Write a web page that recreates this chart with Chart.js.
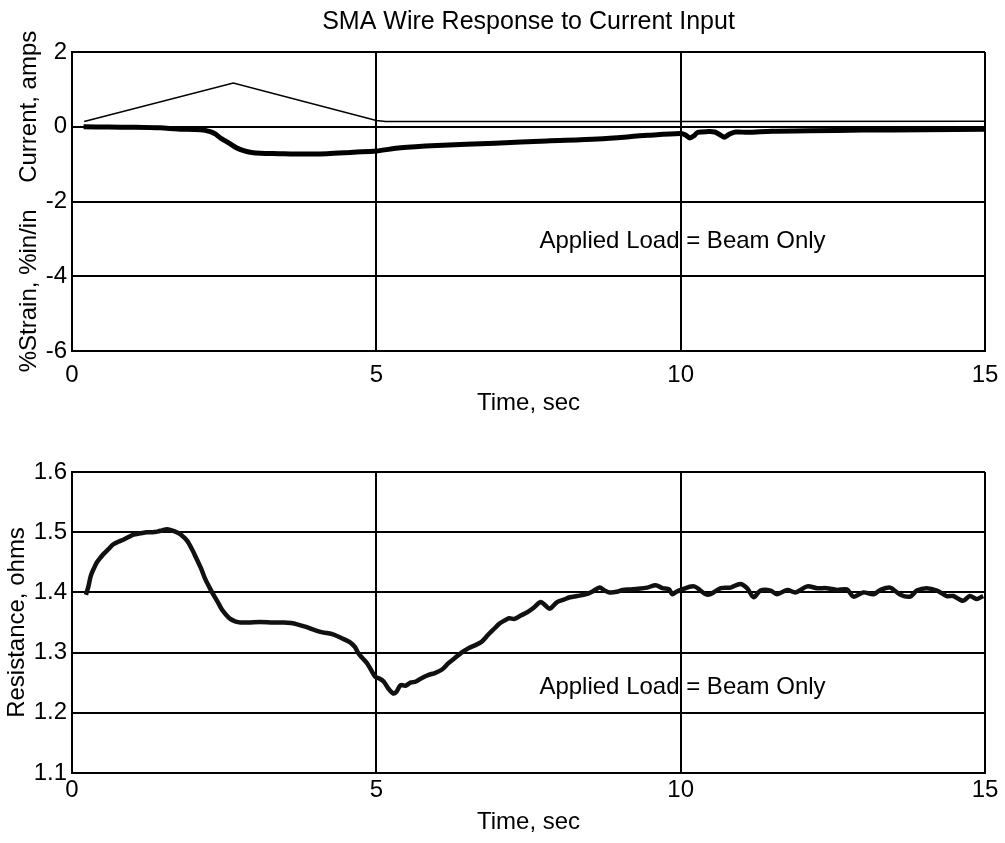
<!doctype html>
<html lang="en">
<head>
<meta charset="utf-8">
<title>SMA Wire Response to Current Input</title>
<style>
  * { margin: 0; padding: 0; }
  body { background: #fff; width: 1005px; height: 843px; position: relative; overflow: hidden; }
  .box { position: absolute; left: 0; width: 1005px; }
  #topBox { top: 0; height: 420px; }
  #bottomBox { top: 420px; height: 423px; }
</style>
</head>
<body>
<div class="box" id="topBox"><canvas id="strainChart"></canvas></div>
<div class="box" id="bottomBox"><canvas id="resChart"></canvas></div>

<script src="https://cdn.jsdelivr.net/npm/chart.js"></script>
<script>
// current input (thin line), amps
const currentTime = [0.2, 2.65, 5.0, 5.15, 10.0, 15.0];
const currentAmps = [0.14, 1.17, 0.17, 0.14, 0.14, 0.15];

// strain (thick line), %in/in
const strainTime = [0.19, 0.6, 1.0, 1.45, 1.73, 2.11, 2.27, 2.36, 2.44, 2.52, 2.6, 2.7, 2.82, 2.95, 3.1, 3.4, 3.65, 4.19, 4.63, 5.0,
  5.4, 6.0, 6.95, 7.8, 8.64, 9.46, 10.0, 10.08, 10.15, 10.22, 10.28, 10.45, 10.56, 10.65, 10.72, 10.8, 10.9, 11.1, 11.5, 12.1,
  13.0, 14.0, 15.0];
const strainValues = [0.0, -0.01, -0.015, -0.03, -0.06, -0.08, -0.13, -0.2, -0.3, -0.38, -0.46, -0.56, -0.64, -0.69, -0.71, -0.72, -0.73, -0.72, -0.68, -0.65,
  -0.56, -0.5, -0.44, -0.38, -0.33, -0.23, -0.18, -0.22, -0.3, -0.24, -0.15, -0.13, -0.14, -0.22, -0.28, -0.2, -0.14, -0.15, -0.12, -0.11,
  -0.09, -0.08, -0.07];

// wire resistance, ohms
const resTime = [0.23, 0.27, 0.31, 0.36, 0.41, 0.47, 0.52, 0.6, 0.68, 0.76, 0.85, 0.93, 1.01, 1.12, 1.23, 1.32, 1.4, 1.48, 1.56, 1.64,
  1.72, 1.8, 1.89, 1.97, 2.05, 2.12, 2.19, 2.26, 2.33, 2.4, 2.46, 2.53, 2.6, 2.68, 2.77, 2.9, 3.09, 3.3, 3.48, 3.6,
  3.7, 3.83, 3.97, 4.1, 4.3, 4.45, 4.57, 4.65, 4.71, 4.78, 4.85, 4.92, 4.98, 5.05, 5.12, 5.2, 5.28, 5.33, 5.4, 5.48,
  5.56, 5.65, 5.75, 5.86, 5.96, 6.08, 6.18, 6.29, 6.4, 6.51, 6.62, 6.73, 6.84, 6.94, 7.02, 7.1, 7.18, 7.27, 7.38, 7.48,
  7.58, 7.7, 7.78, 7.85, 7.97, 8.08, 8.18, 8.3, 8.45, 8.56, 8.67, 8.75, 8.83, 8.95, 9.05, 9.16, 9.3, 9.45, 9.59, 9.7,
  9.81, 9.86, 9.93, 10.0, 10.22, 10.44, 10.66, 10.82, 10.98, 11.09, 11.2, 11.31, 11.48, 11.58, 11.75, 11.89, 12.08, 12.24, 12.4, 12.57,
  12.73, 12.84, 13.0, 13.17, 13.28, 13.44, 13.61, 13.77, 13.88, 14.04, 14.21, 14.37, 14.48, 14.64, 14.75, 14.86, 14.97];
const resValues = [1.396, 1.41, 1.428, 1.44, 1.45, 1.458, 1.464, 1.472, 1.48, 1.484, 1.488, 1.492, 1.496, 1.498, 1.5, 1.5, 1.501, 1.503, 1.505, 1.503,
  1.5, 1.495, 1.486, 1.472, 1.455, 1.44, 1.422, 1.408, 1.395, 1.383, 1.372, 1.363, 1.356, 1.352, 1.35, 1.35, 1.351, 1.35, 1.35, 1.349,
  1.347, 1.343, 1.338, 1.334, 1.33, 1.323, 1.317, 1.309, 1.298, 1.29, 1.282, 1.27, 1.26, 1.257, 1.252, 1.24, 1.232, 1.235, 1.246, 1.245,
  1.25, 1.252, 1.258, 1.263, 1.266, 1.272, 1.282, 1.291, 1.3, 1.307, 1.312, 1.318, 1.33, 1.34, 1.348, 1.353, 1.357, 1.356, 1.362, 1.367,
  1.374, 1.384, 1.378, 1.373, 1.384, 1.388, 1.392, 1.394, 1.397, 1.402, 1.408, 1.403, 1.4, 1.401, 1.404, 1.405, 1.406, 1.408, 1.412, 1.407,
  1.405, 1.397, 1.401, 1.404, 1.41, 1.396, 1.407, 1.408, 1.414, 1.407, 1.392, 1.403, 1.403, 1.397, 1.404, 1.4, 1.41, 1.407, 1.407, 1.404,
  1.405, 1.393, 1.4, 1.397, 1.404, 1.408, 1.396, 1.393, 1.403, 1.407, 1.403, 1.394, 1.394, 1.386, 1.394, 1.389, 1.394];

const timeTicks = [0, 5, 10, 15];
const strainTicks = [-6, -4, -2, 0, 2];
const resTicks = [1.1, 1.2, 1.3, 1.4, 1.5, 1.6];

const FONT = "'Liberation Sans', Arial, sans-serif";
Chart.defaults.font.family = FONT;
Chart.defaults.color = '#000';

const toPoints = (xs, ys) => xs.map((x, i) => ({ x: x, y: ys[i] }));

// text inside / above the plot: note in data units, title centred on the plot area
const plotText = {
  id: 'plotText',
  afterDatasetsDraw(chart, args, opts) {
    const { ctx, scales, chartArea } = chart;
    ctx.save();
    ctx.fillStyle = '#000';
    ctx.textAlign = 'center';
    ctx.textBaseline = 'middle';
    ctx.font = '24px ' + FONT;
    if (opts.note) {
      ctx.fillText(opts.note, scales.x.getPixelForValue(opts.x), scales.y.getPixelForValue(opts.y));
    }
    if (opts.title) {
      ctx.font = '25px ' + FONT;
      ctx.fillText(opts.title, (chartArea.left + chartArea.right) / 2, 22);
    }
    ctx.restore();
  }
};

function timeAxis(height, tickPad, titlePad) {
  return {
    type: 'linear',
    min: 0,
    max: 15,
    afterBuildTicks: (s) => { s.ticks = timeTicks.map(v => ({ value: v })); },
    afterFit: (s) => {
      s.height = height;
      // the plot edges are set by layout padding only
      s.paddingLeft = 0;
      s.paddingRight = 0;
    },
    ticks: { padding: tickPad, font: { size: 24 }, maxRotation: 0 },
    grid: { color: '#000', lineWidth: 2, drawTicks: false },
    border: { color: '#000', width: 2 },
    title: { display: true, text: 'Time, sec', font: { size: 24 }, padding: { top: 0, bottom: titlePad } }
  };
}

const strainChart = new Chart(document.getElementById('strainChart'), {
  type: 'line',
  data: {
    datasets: [
      {
        label: 'Current',
        data: toPoints(currentTime, currentAmps),
        borderColor: '#000',
        borderWidth: 1.5,
        pointRadius: 0,
        tension: 0
      },
      {
        label: 'Strain',
        data: toPoints(strainTime, strainValues),
        borderColor: '#000',
        borderWidth: 5,
        pointRadius: 0,
        tension: 0.3
      }
    ]
  },
  options: {
    responsive: true,
    maintainAspectRatio: false,
    animation: false,
    devicePixelRatio: 1,
    layout: { padding: { left: 0, right: 20, top: 52, bottom: 0 } },
    plugins: {
      legend: { display: false },
      tooltip: { enabled: false },
      plotText: {
        title: 'SMA Wire Response to Current Input',
        note: 'Applied Load = Beam Only', x: 10.03, y: -3.08
      }
    },
    scales: {
      x: timeAxis(69, 10, 2),
      y: {
        min: -6,
        max: 2,
        afterBuildTicks: (s) => { s.ticks = strainTicks.map(v => ({ value: v })); },
        afterFit: (s) => { s.width = 72; },
        ticks: { padding: 5, font: { size: 24 } },
        grid: { color: '#000', lineWidth: 2, drawTicks: false },
        border: { color: '#000', width: 2 },
        title: { display: true, text: '%Strain, %in/in    Current, amps', font: { size: 24 }, padding: { top: 15, bottom: 0 } }
      }
    }
  },
  plugins: [plotText]
});

const resChart = new Chart(document.getElementById('resChart'), {
  type: 'line',
  data: {
    datasets: [{
      label: 'Resistance',
      data: toPoints(resTime, resValues),
      borderColor: '#111',
      borderWidth: 4.5,
      pointRadius: 0,
      tension: 0.3
    }]
  },
  options: {
    responsive: true,
    maintainAspectRatio: false,
    animation: false,
    devicePixelRatio: 1,
    layout: { padding: { left: 0, right: 20, top: 52, bottom: 0 } },
    plugins: {
      legend: { display: false },
      tooltip: { enabled: false },
      plotText: { note: 'Applied Load = Beam Only', x: 10.03, y: 1.243 }
    },
    scales: {
      x: timeAxis(70, 3, 6),
      y: {
        min: 1.1,
        max: 1.6,
        afterBuildTicks: (s) => { s.ticks = resTicks.map(v => ({ value: v })); },
        afterFit: (s) => { s.width = 72; },
        ticks: { padding: 5, font: { size: 24 }, callback: (v) => Number(v).toFixed(1) },
        grid: { color: '#000', lineWidth: 2, drawTicks: false },
        border: { color: '#000', width: 2 },
        title: { display: true, text: 'Resistance, ohms', font: { size: 24 }, padding: { top: 3, bottom: 0 } }
      }
    }
  },
  plugins: [plotText]
});
</script>
</body>
</html>
